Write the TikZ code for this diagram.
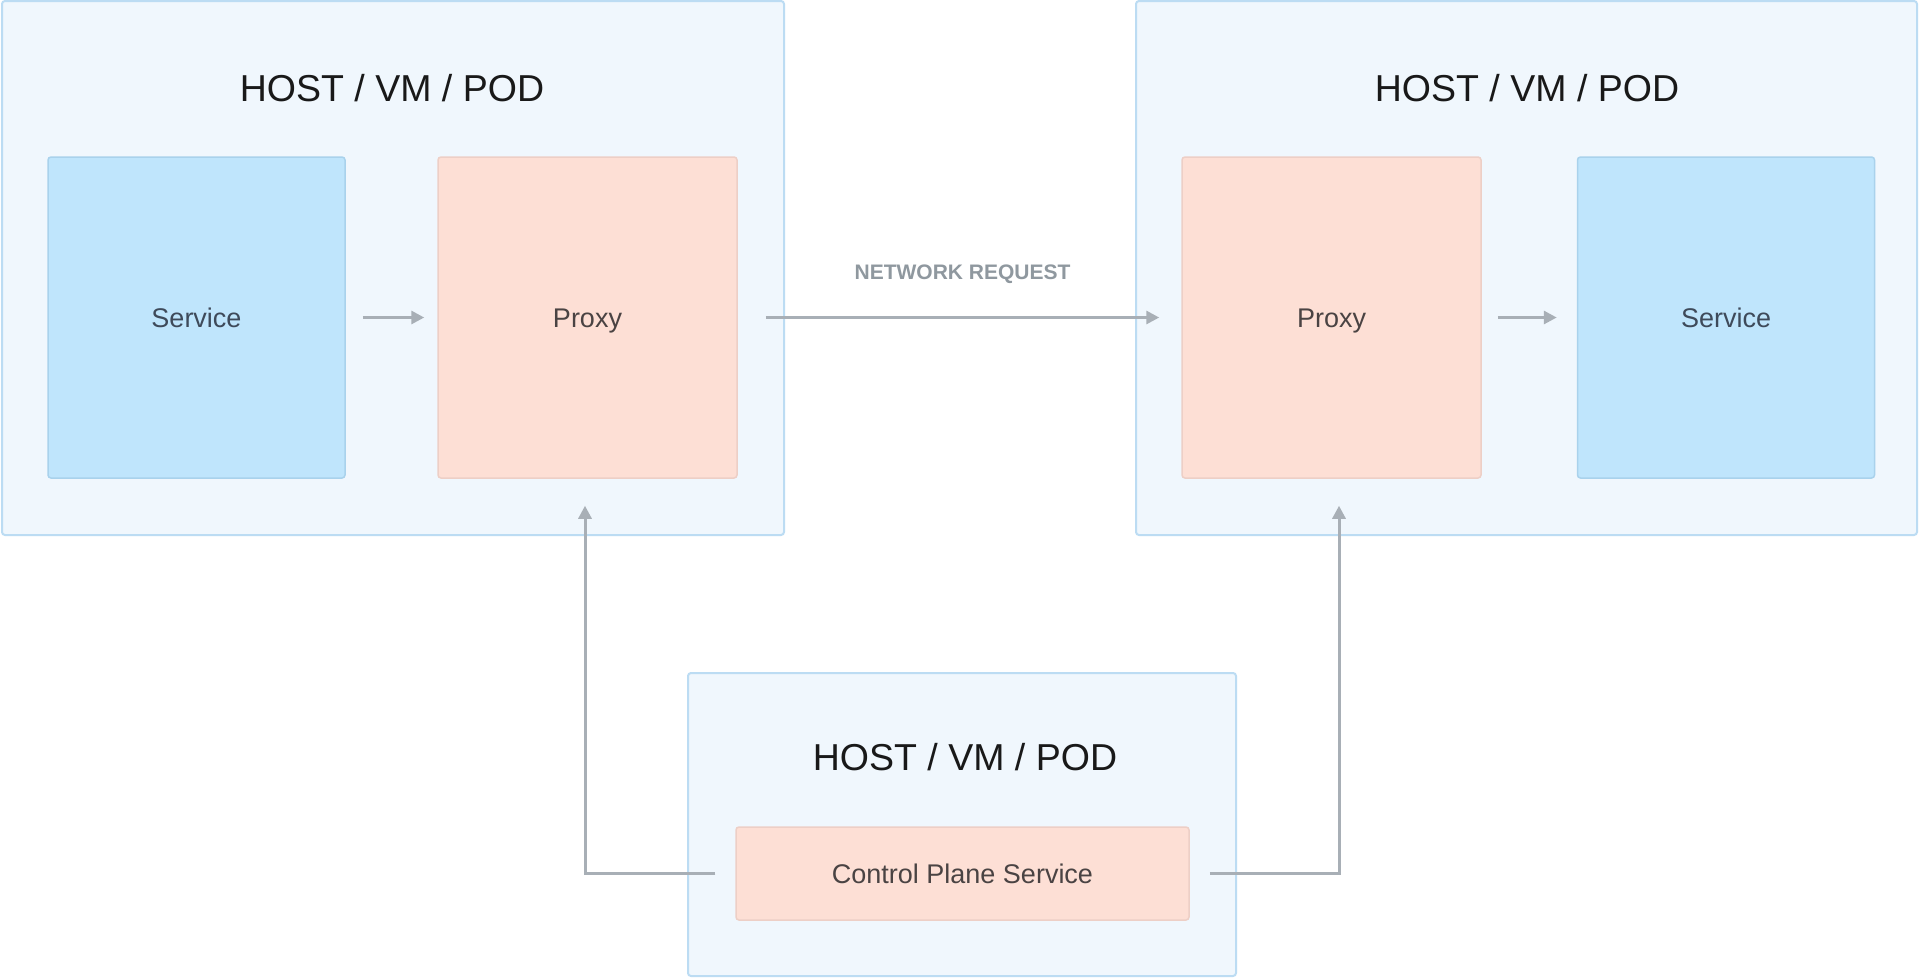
\documentclass[tikz,border=0pt]{standalone}
\usepackage{fontspec}
\setmainfont{Liberation Sans}
\usepackage{tikz}
\usetikzlibrary{arrows.meta,positioning}

\definecolor{hostfill}{HTML}{F0F7FD}
\definecolor{hostline}{HTML}{BCDCF3}
\definecolor{svcfill}{HTML}{BFE5FC}
\definecolor{svcline}{HTML}{A9D2EC}
\definecolor{proxyfill}{HTML}{FDDFD5}
\definecolor{proxyline}{HTML}{EDCFC6}
\definecolor{arrowgray}{HTML}{A8AFB6}
\definecolor{svctext}{HTML}{3E4A5A}
\definecolor{proxytext}{HTML}{4A4343}
\definecolor{reqtext}{HTML}{8F989F}

\begin{document}
\begin{tikzpicture}[x=1pt,y=-1pt,>={Triangle[length=13pt,width=13pt]},
    host/.style={draw=hostline,fill=hostfill,line width=2pt,rounded corners=3pt,inner sep=0pt},
    svc/.style={draw=svcline,fill=svcfill,line width=1.5pt,rounded corners=3pt,inner sep=0pt,
      minimum width=297pt,minimum height=321pt,text=svctext,font=\fontsize{27}{32}\selectfont,
      text height=19.4pt,text depth=0pt},
    proxy/.style={draw=proxyline,fill=proxyfill,line width=1.5pt,rounded corners=3pt,inner sep=0pt,
      minimum width=299pt,minimum height=321pt,text=proxytext,font=\fontsize{27}{32}\selectfont,
      text height=19.4pt,text depth=0pt},
    title/.style={text=black!90,font=\fontsize{37.5}{44}\selectfont},
    flow/.style={->,draw=arrowgray,line width=3pt}]
    \useasboundingbox[fill=white] (0,0) rectangle (1920,980);

    % three hosts
    \node[host,minimum width=782pt,minimum height=534pt] (hostL) at (393,268) {};
    \node[host,minimum width=781pt,minimum height=534pt] (hostR) at (1526.5,268) {};
    \node[host,minimum width=548pt,minimum height=303pt] (hostC) at (962,824.5) {};
    \node[title] (tL) at (392,88) {HOST / VM / POD};
    \node[title] (tR) at (1527,88) {HOST / VM / POD};
    \node[title] (tC) at (965,757) {HOST / VM / POD};

    % services and proxies
    \node[svc] (svcL) at (196.5,317.5) {Service};
    \node[proxy] (proxyL) at (587.5,317.5) {Proxy};
    \node[proxy] (proxyR) at (1331.5,317.5) {Proxy};
    \node[svc] (svcR) at (1726,317.5) {Service};
    \node[proxy,minimum width=453pt,minimum height=93pt] (cps) at (962.5,873.5) {Control Plane Service};

    % requests
    \draw[flow] ([xshift=17pt]svcL.east) -- ([xshift=-13pt]proxyL.west);
    \draw[flow] ([xshift=28pt]proxyL.east) -- node[above=29pt,text=reqtext,font=\bfseries\fontsize{21}{25}\selectfont] {NETWORK REQUEST} ([xshift=-22pt]proxyR.west);
    \draw[flow] ([xshift=16pt]proxyR.east) -- ([xshift=-20pt]svcR.west);

    % control plane
    \draw[flow] ([xshift=-20pt]cps.west) -| ([xshift=-2.5pt,yshift=-27pt]proxyL.south);
    \draw[flow] ([xshift=20pt]cps.east) -| ([xshift=7.5pt,yshift=-27pt]proxyR.south);
\end{tikzpicture}
\end{document}
